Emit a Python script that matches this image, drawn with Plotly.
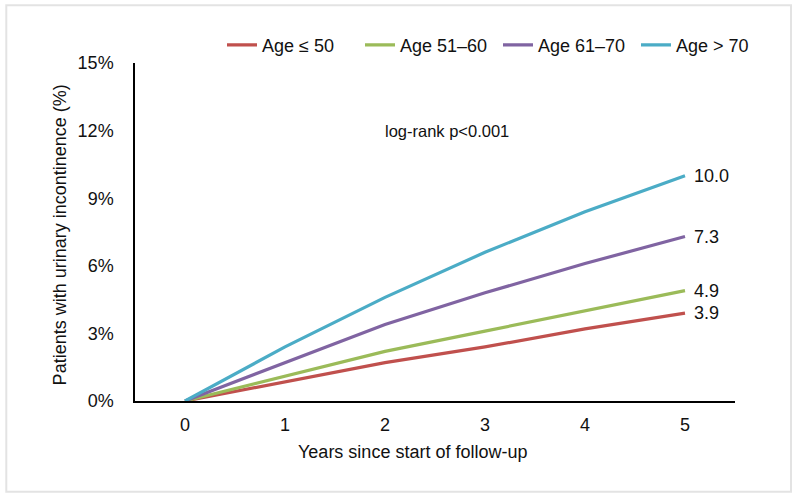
import plotly.graph_objects as go

years = [0, 1, 2, 3, 4, 5]
series_names = ["Age ≤ 50", "Age 51–60", "Age 61–70", "Age > 70"]
age_le50 = [0, 0.85, 1.7, 2.4, 3.2, 3.9]
age_51_60 = [0, 1.1, 2.2, 3.1, 4.0, 4.9]
age_61_70 = [0, 1.7, 3.4, 4.8, 6.1, 7.3]
age_gt70 = [0, 2.4, 4.6, 6.6, 8.4, 10.0]
colors = ["#C0504D", "#9BBB59", "#8064A2", "#4BACC6"]
y_ticks = [0, 3, 6, 9, 12, 15]
annotation_text = "log-rank p<0.001"
x_title = "Years since start of follow-up"
y_title = "Patients with urinary incontinence (%)"

all_series = [age_le50, age_51_60, age_61_70, age_gt70]
FONT = "Liberation Sans, Arial, sans-serif"

fig = go.Figure()
for name, vals, c in zip(series_names, all_series, colors):
    fig.add_trace(go.Scatter(x=years, y=vals, mode="lines", name=name,
                             line=dict(color=c, width=3.2)))
    fig.add_annotation(x=years[-1], y=vals[-1], text=f"{vals[-1]:.1f}",
                       showarrow=False, xanchor="left", xshift=7,
                       font=dict(family=FONT, size=18, color="#111"))

fig.add_annotation(x=2.62, y=12.0, text=annotation_text, showarrow=False,
                   font=dict(family=FONT, size=16.5, color="#111"))

# x-axis title (slightly left of centre, as in the reference)
fig.add_annotation(xref="paper", yref="paper", x=0.462, y=-0.151,
                   text=x_title, showarrow=False, xanchor="center", yanchor="middle",
                   font=dict(family=FONT, size=18, color="#111"))

# y-axis title
fig.add_annotation(xref="paper", yref="paper", x=-0.125, y=0.49,
                   text=y_title, showarrow=False, textangle=-90,
                   xanchor="center", yanchor="middle",
                   font=dict(family=FONT, size=18, color="#111"))

fig.add_shape(type="rect", xref="paper", yref="paper",
              x0=-0.2145, x1=1.0933, y0=-0.2685, y1=1.1705,
              line=dict(color="#E3E3E3", width=2))

fig.update_layout(
    width=800, height=500,
    margin=dict(l=135, r=65, t=63, b=99, autoexpand=False),
    plot_bgcolor="white", paper_bgcolor="white",
    font=dict(family=FONT, size=18, color="#111"),
    showlegend=True,
    legend=dict(orientation="h", x=0.145, y=1.053, xanchor="left", yanchor="middle",
                font=dict(size=18), itemwidth=30, tracegroupgap=0,
                entrywidth=93, bgcolor="rgba(0,0,0,0)"),
    xaxis=dict(range=[-0.5, 5.5], tickvals=years, ticktext=[str(y) for y in years],
               showgrid=False, zeroline=False, showline=True, linecolor="black",
               linewidth=1.5, ticks="", ticklabelstandoff=7,
               tickfont=dict(size=18)),
    yaxis=dict(range=[0, 15], tickvals=y_ticks, ticktext=[f"{t}%" for t in y_ticks],
               showgrid=False, zeroline=False, showline=True, linecolor="black",
               linewidth=1.5, ticks="", ticklabelstandoff=16,
               tickfont=dict(size=18)),
)

fig.write_html("out.html")
